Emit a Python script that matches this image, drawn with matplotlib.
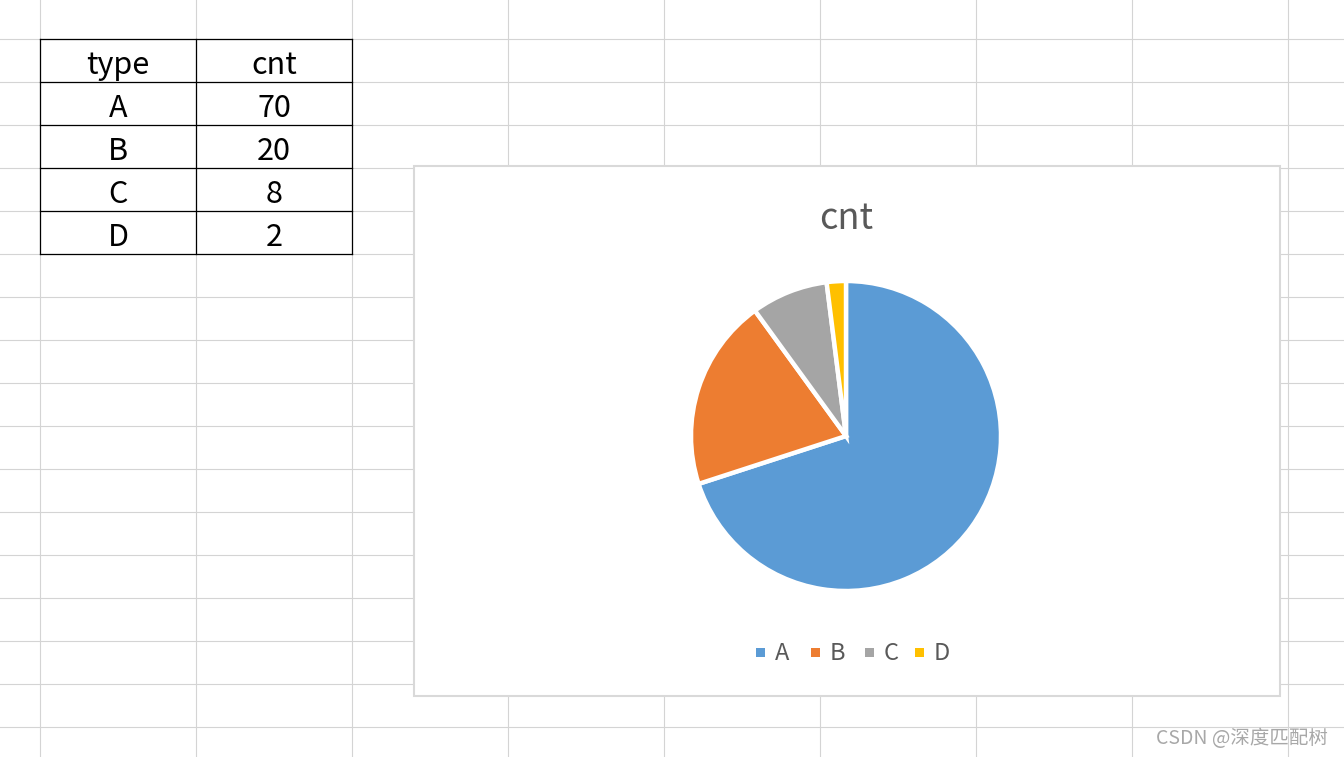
import matplotlib
matplotlib.use("Agg")
import matplotlib.pyplot as plt
from matplotlib.patches import Rectangle

# ---- data ----
types = ["A", "B", "C", "D"]
cnt = [70, 20, 8, 2]
header = ["type", "cnt"]
colors = ["#5B9BD5", "#ED7D31", "#A5A5A5", "#FFC000"]
title = "cnt"

W, H = 1344, 757
fig = plt.figure(figsize=(W / 100, H / 100), dpi=100)
fig.patch.set_facecolor("white")

FONT = ["Noto Sans CJK SC", "DejaVu Sans"]

# background sheet axes in pixel coordinates (y down)
bg = fig.add_axes([0, 0, 1, 1])
bg.set_xlim(0, W)
bg.set_ylim(H, 0)
bg.axis("off")

grid_c = "#D4D4D4"
col_x = [40 + 156 * i for i in range(9)]
row_y = [39 + 43 * i for i in range(17)]
for x in col_x:
    bg.plot([x, x], [0, H], color=grid_c, lw=0.8, zorder=1)
for y in row_y:
    bg.plot([0, W], [y, y], color=grid_c, lw=0.8, zorder=1)

# table
tx0, tx1, tx2 = 40, 196, 352
rows = [header] + [[t, str(c)] for t, c in zip(types, cnt)]
ty = [39 + 43 * i for i in range(len(rows) + 1)]
for y in ty:
    bg.plot([tx0, tx2], [y, y], color="black", lw=0.9, zorder=2)
for x in (tx0, tx1, tx2):
    bg.plot([x, x], [ty[0], ty[-1]], color="black", lw=0.9, zorder=2)
for i, (a, b) in enumerate(rows):
    yc = (ty[i] + ty[i + 1]) / 2 + 5
    bg.text((tx0 + tx1) / 2, yc, a, ha="center", va="center", fontsize=22,
            family=FONT, color="black", zorder=3)
    bg.text((tx1 + tx2) / 2, yc, b, ha="center", va="center", fontsize=22,
            family=FONT, color="black", zorder=3)

# chart area box
bg.add_patch(Rectangle((414, 166), 866, 530, facecolor="white",
                       edgecolor="#D9D9D9", lw=1.5, zorder=4))
bg.text(846, 219, title, ha="center", va="center", fontsize=26,
        family=FONT, color="#595959", zorder=5)

# legend (drawn in pixel coords)
lx = [760, 815, 869, 919]
for x, t, c in zip(lx, types, colors):
    bg.add_patch(Rectangle((x - 4.5, 648), 9, 9, facecolor=c, edgecolor="none", zorder=5))
    bg.text(x + 15, 654, t, ha="left", va="center", fontsize=17,
            family=FONT, color="#595959", zorder=5)

# watermark
bg.text(1328, 739, "CSDN @深度匹配树", ha="right", va="center", fontsize=14,
        family=FONT, color="#A8A8A8", zorder=5)

# pie axes
cx, cy, r = 846, 436, 155
pax = fig.add_axes([(cx - r) / W, (H - cy - r) / H, 2 * r / W, 2 * r / H])
pax.set_zorder(6)
pax.pie(cnt, colors=colors, startangle=90, counterclock=False, radius=1,
        wedgeprops=dict(edgecolor="white", linewidth=3.2))
pax.set_xlim(-1, 1)
pax.set_ylim(-1, 1)
pax.set_aspect("equal")
pax.axis("off")

fig.savefig("out.png", dpi=100)
